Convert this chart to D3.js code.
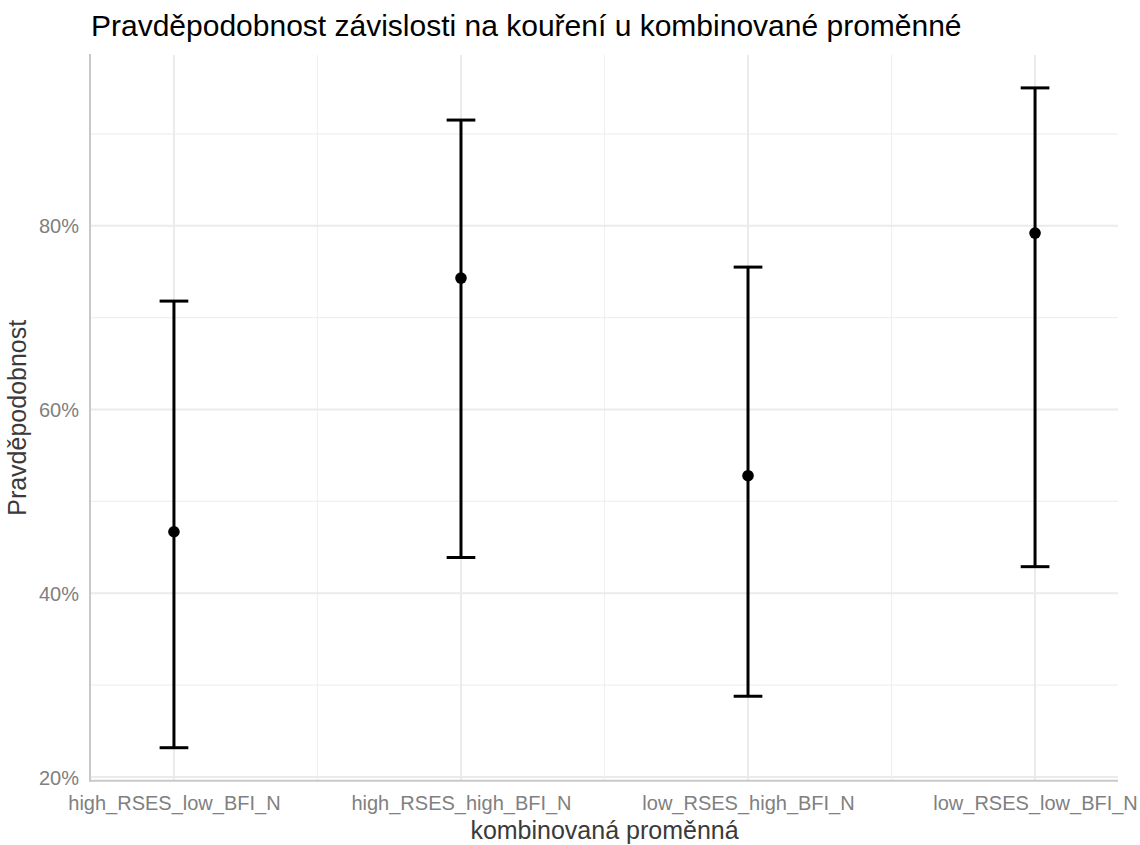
<!DOCTYPE html>
<html>
<head>
<meta charset="utf-8">
<script src="https://cdn.jsdelivr.net/npm/d3@7"></script>
<style>
  html, body { margin: 0; padding: 0; background: #fff; }
  svg { display: block; font-family: "Liberation Sans", Arial, sans-serif; }
</style>
</head>
<body>
<svg id="chart" width="1140" height="845"></svg>
<script>
const categories = ["high_RSES_low_BFI_N", "high_RSES_high_BFI_N", "low_RSES_high_BFI_N", "low_RSES_low_BFI_N"];
const estimates = [0.467, 0.743, 0.528, 0.792];
const lowerCI = [0.232, 0.439, 0.288, 0.429];
const upperCI = [0.718, 0.915, 0.755, 0.950];
const yMajorTicks = [0.2, 0.4, 0.6, 0.8];
const yMinorTicks = [0.3, 0.5, 0.7, 0.9];
const titleText = "Pravděpodobnost závislosti na kouření u kombinované proměnné";
const xTitle = "kombinovaná proměnná";
const yTitle = "Pravděpodobnost";

const svg = d3.select("#chart");
const panel = { left: 91, right: 1118, top: 54.9, bottom: 780.7 };

const lo = d3.min(lowerCI), hi = d3.max(upperCI), span = hi - lo;
const y = d3.scaleLinear().domain([lo - 0.05 * span, hi + 0.05 * span]).range([panel.bottom, panel.top]);
const x = d3.scalePoint().domain(categories).range([panel.left, panel.right]).padding(0.289);

const grid = svg.append("g");
// minor horizontal
grid.selectAll("line.hmin").data(yMinorTicks).join("line")
  .attr("x1", panel.left).attr("x2", panel.right)
  .attr("y1", d => y(d)).attr("y2", d => y(d))
  .attr("stroke", "#f0f0f0").attr("stroke-width", 1.2);
// minor vertical (between categories)
const mids = categories.slice(1).map((c, i) => (x(categories[i]) + x(c)) / 2);
grid.selectAll("line.vmin").data(mids).join("line")
  .attr("x1", d => d).attr("x2", d => d)
  .attr("y1", panel.top).attr("y2", panel.bottom)
  .attr("stroke", "#f0f0f0").attr("stroke-width", 1.2);
// major horizontal
grid.selectAll("line.hmaj").data(yMajorTicks).join("line")
  .attr("x1", panel.left).attr("x2", panel.right)
  .attr("y1", d => y(d)).attr("y2", d => y(d))
  .attr("stroke", "#ebebeb").attr("stroke-width", 2);
// major vertical
grid.selectAll("line.vmaj").data(categories).join("line")
  .attr("x1", d => x(d)).attr("x2", d => x(d))
  .attr("y1", panel.top).attr("y2", panel.bottom)
  .attr("stroke", "#ebebeb").attr("stroke-width", 2);

// axis lines
svg.append("line").attr("x1", 90).attr("x2", 90).attr("y1", panel.top - 1).attr("y2", panel.bottom + 1)
  .attr("stroke", "#c9c9c9").attr("stroke-width", 2);
svg.append("line").attr("x1", 89).attr("x2", panel.right).attr("y1", panel.bottom).attr("y2", panel.bottom)
  .attr("stroke", "#c9c9c9").attr("stroke-width", 2);

// y axis labels via d3 axis
const yAxis = d3.axisLeft(y).tickValues(yMajorTicks).tickFormat(d3.format(".0%")).tickSize(0).tickPadding(0);
const gy = svg.append("g").attr("transform", "translate(79,0)").call(yAxis);
gy.select(".domain").remove();
gy.selectAll("text").attr("fill", "#808080").style("font-size", "20px")
  .style("font-family", "'Liberation Sans', Arial, sans-serif").attr("dy", "0.35em");

// x axis labels
const xAxis = d3.axisBottom(x).tickSize(0).tickPadding(0);
const gx = svg.append("g").attr("transform", "translate(0,810)").call(xAxis);
gx.select(".domain").remove();
gx.selectAll("text").attr("fill", "#808080").style("font-size", "20px")
  .style("font-family", "'Liberation Sans', Arial, sans-serif").attr("dy", 0).attr("y", 0);

// error bars
const data = categories.map((c, i) => ({ c, est: estimates[i], lo: lowerCI[i], hi: upperCI[i] }));
const capW = x.step() * 0.1;
const eb = svg.append("g").attr("stroke", "#000").attr("stroke-width", 3);
eb.selectAll("line.v").data(data).join("line")
  .attr("x1", d => x(d.c)).attr("x2", d => x(d.c))
  .attr("y1", d => y(d.lo)).attr("y2", d => y(d.hi));
eb.selectAll("line.t").data(data).join("line")
  .attr("x1", d => x(d.c) - capW / 2).attr("x2", d => x(d.c) + capW / 2)
  .attr("y1", d => y(d.hi)).attr("y2", d => y(d.hi));
eb.selectAll("line.b").data(data).join("line")
  .attr("x1", d => x(d.c) - capW / 2).attr("x2", d => x(d.c) + capW / 2)
  .attr("y1", d => y(d.lo)).attr("y2", d => y(d.lo));
svg.append("g").selectAll("circle").data(data).join("circle")
  .attr("cx", d => x(d.c)).attr("cy", d => y(d.est)).attr("r", 5.8).attr("fill", "#000");

// titles
svg.append("text").attr("x", 91).attr("y", 36).text(titleText)
  .attr("fill", "#000").style("font-size", "30px");
svg.append("text").attr("x", (panel.left + panel.right) / 2).attr("y", 839).attr("text-anchor", "middle")
  .text(xTitle).attr("fill", "#3a3a3a").style("font-size", "25px");
svg.append("text").attr("transform", `translate(26,${(panel.top + panel.bottom) / 2}) rotate(-90)`)
  .attr("text-anchor", "middle").text(yTitle).attr("fill", "#3a3a3a").style("font-size", "25px");
</script>
</body>
</html>
